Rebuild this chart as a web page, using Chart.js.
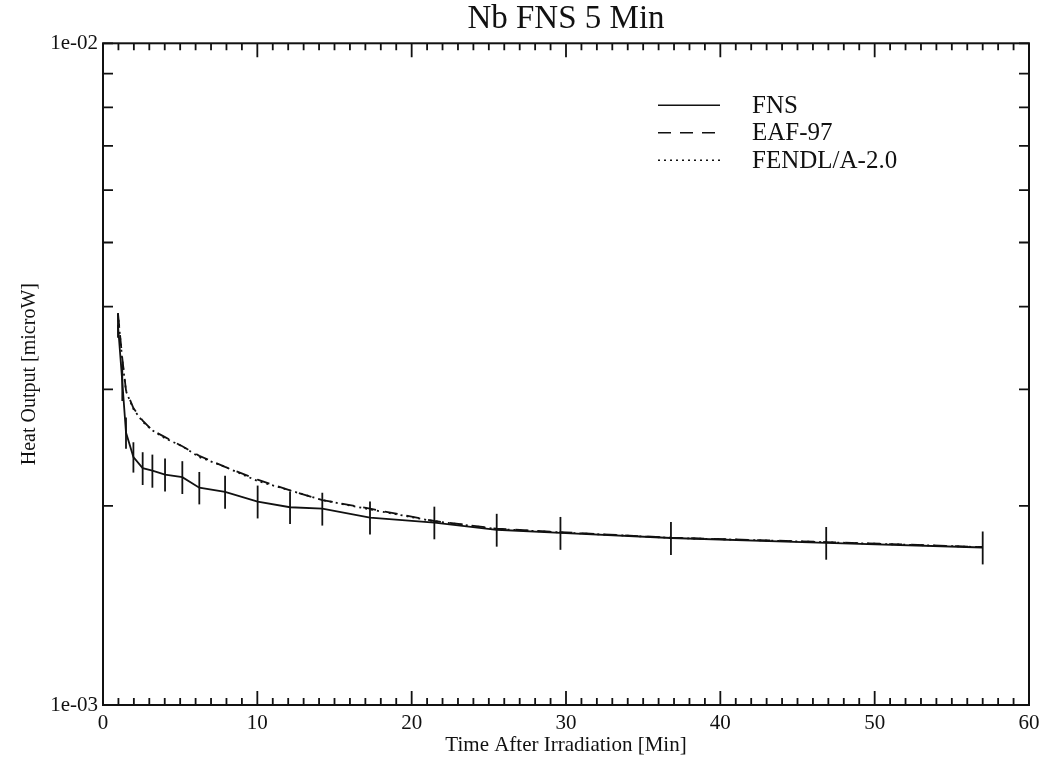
<!DOCTYPE html>
<html>
<head>
<meta charset="utf-8">
<title>Nb FNS 5 Min</title>
<script src="https://cdn.jsdelivr.net/npm/chart.js@4.4.1/dist/chart.umd.min.js"></script>
<style>
    body { margin: 0; background: #fff; }
    #wrap { width: 1050px; height: 758px; }
</style>
</head>
<body>
<div id="wrap"><canvas id="heatChart"></canvas></div>
<script>
// times after irradiation [min]
const times = [0.97, 1.25, 1.49, 1.97, 2.57, 3.2, 4.02, 5.14, 6.24, 7.91, 10.02, 12.12, 14.21, 17.3, 21.47, 25.51, 29.64, 36.8, 46.86, 57.0];

// heat output [microW]
const fnsValues = [3.75e-3, 3.08e-3, 2.58e-3, 2.37e-3, 2.28e-3, 2.26e-3, 2.23e-3, 2.21e-3, 2.13e-3, 2.10e-3, 2.03e-3, 1.99e-3, 1.98e-3, 1.92e-3, 1.887e-3, 1.84e-3, 1.82e-3, 1.788e-3, 1.758e-3, 1.73e-3];
const fnsErrors = [0.16e-3, 0.20e-3, 0.14e-3, 0.125e-3, 0.13e-3, 0.13e-3, 0.127e-3, 0.126e-3, 0.12e-3, 0.12e-3, 0.116e-3, 0.113e-3, 0.113e-3, 0.11e-3, 0.107e-3, 0.105e-3, 0.104e-3, 0.102e-3, 0.10e-3, 0.099e-3];
const eafValues = [3.91e-3, 3.34e-3, 2.99e-3, 2.81e-3, 2.69e-3, 2.60e-3, 2.54e-3, 2.46e-3, 2.38e-3, 2.29e-3, 2.19e-3, 2.11e-3, 2.04e-3, 1.98e-3, 1.897e-3, 1.847e-3, 1.825e-3, 1.79e-3, 1.763e-3, 1.733e-3];
const fendlValues = [3.90e-3, 3.32e-3, 2.98e-3, 2.80e-3, 2.68e-3, 2.60e-3, 2.53e-3, 2.46e-3, 2.37e-3, 2.29e-3, 2.18e-3, 2.11e-3, 2.04e-3, 1.975e-3, 1.895e-3, 1.845e-3, 1.823e-3, 1.789e-3, 1.762e-3, 1.732e-3];

const seriesLabels = ['FNS', 'EAF-97', 'FENDL/A-2.0'];
const yTickValues = [1e-3, 2e-3, 3e-3, 4e-3, 5e-3, 6e-3, 7e-3, 8e-3, 9e-3, 1e-2];
const xTicksMax = 60;

const serif = "'Liberation Serif', 'DejaVu Serif', serif";
const ink = '#111';

function toPoints(values) {
    return times.map((t, i) => ({ x: t, y: values[i] }));
}

function decadeLabel(v) {
    const exp = Math.round(Math.log10(v));
    if (Math.abs(v / Math.pow(10, exp) - 1) > 1e-6) return '';
    const sign = exp < 0 ? '-' : '+';
    return '1e' + sign + String(Math.abs(exp)).padStart(2, '0');
}

// frame, inward ticks, error bars and legend
const framePlugin = {
    id: 'frame',
    afterDatasetsDraw(chart) {
        const { ctx, chartArea: a, scales } = chart;
        const xs = scales.x, ys = scales.y;
        ctx.save();
        ctx.strokeStyle = ink;
        ctx.lineWidth = 1.8;

        // error bars on FNS
        const meta = chart.getDatasetMeta(0);
        meta.data.forEach((pt, i) => {
            const hi = ys.getPixelForValue(fnsValues[i] + fnsErrors[i]);
            const lo = ys.getPixelForValue(fnsValues[i] - fnsErrors[i]);
            ctx.beginPath();
            ctx.moveTo(pt.x, hi);
            ctx.lineTo(pt.x, lo);
            ctx.stroke();
        });

        // x ticks, bottom and top
        xs.ticks.forEach(t => {
            const px = xs.getPixelForValue(t.value);
            const len = t.value % 10 === 0 ? 14 : 7;
            ctx.beginPath();
            ctx.moveTo(px, a.bottom);
            ctx.lineTo(px, a.bottom - len);
            ctx.moveTo(px, a.top);
            ctx.lineTo(px, a.top + len);
            ctx.stroke();
        });

        // y ticks, left and right
        ys.ticks.forEach(t => {
            const py = ys.getPixelForValue(t.value);
            ctx.beginPath();
            ctx.moveTo(a.left, py);
            ctx.lineTo(a.left + 10, py);
            ctx.moveTo(a.right, py);
            ctx.lineTo(a.right - 10, py);
            ctx.stroke();
        });

        ctx.lineWidth = 2;
        ctx.strokeRect(a.left, a.top, a.right - a.left, a.bottom - a.top);

        // legend in the upper right
        ctx.font = '25px ' + serif;
        ctx.fillStyle = ink;
        ctx.textBaseline = 'middle';
        chart.data.datasets.forEach((ds, i) => {
            const y = a.top + 62 + i * 27.5;
            const x0 = a.left + 555;
            ctx.lineWidth = 1.6;
            ctx.setLineDash(ds.borderDash || []);
            ctx.beginPath();
            ctx.moveTo(x0, y);
            ctx.lineTo(x0 + 62, y);
            ctx.stroke();
            ctx.setLineDash([]);
            ctx.fillText(ds.label, x0 + 94, y + 1);
        });
        ctx.restore();
    }
};

new Chart(document.getElementById('heatChart'), {
    type: 'line',
    data: {
        datasets: [{
            label: seriesLabels[0],
            data: toPoints(fnsValues),
            borderColor: ink,
            borderWidth: 1.8,
            pointRadius: 0,
            tension: 0
        },
        {
            label: seriesLabels[1],
            data: toPoints(eafValues),
            borderColor: ink,
            borderWidth: 1.8,
            borderDash: [13, 9],
            pointRadius: 0,
            tension: 0
        },
        {
            label: seriesLabels[2],
            data: toPoints(fendlValues),
            borderColor: ink,
            borderWidth: 1.8,
            borderDash: [2, 4],
            pointRadius: 0,
            tension: 0
        }]
    },
    options: {
        responsive: true,
        maintainAspectRatio: false,
        animation: false,
        layout: { padding: { left: 0, right: 21, top: 0, bottom: 0 } },
        plugins: {
            legend: { display: false },
            tooltip: { enabled: false },
            title: {
                display: true,
                text: 'Nb FNS 5 Min',
                fullSize: false,
                color: ink,
                font: { family: serif, size: 33, weight: 'normal', lineHeight: 1.1 },
                padding: { top: 1, bottom: 6 }
            }
        },
        scales: {
            x: {
                type: 'linear',
                min: 0,
                max: xTicksMax,
                grid: { display: false, drawTicks: false },
                border: { display: false },
                afterFit(scale) { scale.height = 53; },
                ticks: {
                    stepSize: 1,
                    autoSkip: false,
                    maxRotation: 0,
                    padding: 6,
                    color: ink,
                    font: { family: serif, size: 21 },
                    callback: v => (v % 10 === 0 ? String(v) : '')
                },
                title: {
                    display: true,
                    text: 'Time After Irradiation [Min]',
                    color: ink,
                    font: { family: serif, size: 21 },
                    padding: { top: 0, bottom: 0 }
                }
            },
            y: {
                type: 'logarithmic',
                min: 1e-3,
                max: 1e-2,
                grid: { display: false, drawTicks: false },
                border: { display: false },
                afterFit(scale) { scale.width = 103; },
                afterBuildTicks(scale) {
                    scale.ticks = yTickValues.map(v => ({ value: v, major: decadeLabel(v) !== '' }));
                },
                ticks: {
                    autoSkip: false,
                    padding: 5,
                    color: ink,
                    font: { family: serif, size: 21 },
                    callback: v => decadeLabel(v)
                },
                title: {
                    display: true,
                    text: 'Heat Output [microW]',
                    color: ink,
                    font: { family: serif, size: 20 },
                    padding: { top: 18, bottom: 0 }
                }
            }
        }
    },
    plugins: [framePlugin]
});
</script>
</body>
</html>
